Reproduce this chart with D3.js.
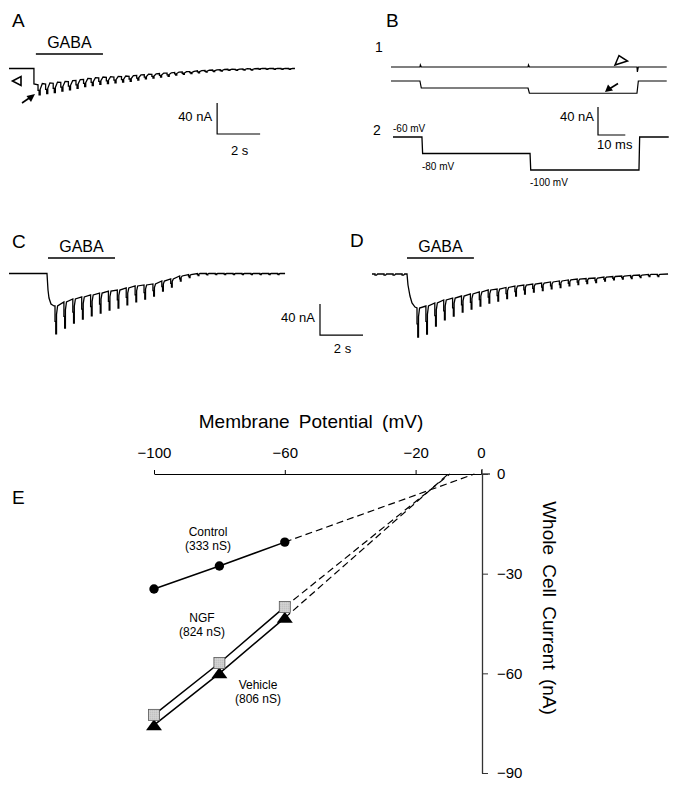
<!DOCTYPE html>
<html><head><meta charset="utf-8">
<script src="https://cdn.jsdelivr.net/npm/d3@7"></script>
<style>
body{margin:0;background:#fff}
svg{display:block}
text{font-family:"Liberation Sans",Arial,Helvetica,sans-serif;fill:#000}
</style>
</head><body><svg id="fig" width="679" height="785"></svg>
<script>
// ---------- DATA ----------
// Panel A (GABA-evoked current, nA; pulses every period s)
const aOnsetT = [1.16, 1.16];
const aOnsetI = [0, -20];
const aEnv   = [-21,-20,-19,-18,-17,-15.5,-14,-13,-12,-11.5,-11,-10.5,-10,-9,-8,-7.5,-6.5,-6,-5,-4.5,-4,-3,-2.5,-2,-1.5,-1,-1,-0.5,-0.5,0,0,0,0,0];
const aDepth = [13,12.5,12,11,10.5,10,9.5,9,8.5,8,7.5,7,6.5,6,5.5,5,4.5,4,3.5,3,2.5,2.5,2,2,2,1.5,1.5,1.5,1.5,1,1,1,1,1];
// Panel C
const cOnsetT = [1.767, 1.814, 1.86, 1.953, 2.093];
const cOnsetI = [0, -21.3, -31.6, -39.4, -41.9];
const cEnv   = [-41.9,-36.8,-32.9,-30.3,-27.7,-25.2,-22.6,-21.3,-18.7,-16.1,-14.8,-13.5,-9.7,-7.1,-3.2,-1.3,0,0,0,0,0,0,0,0,0,0];
const cDepth = [36,33.5,31,28.4,27.1,25.8,24.5,23.2,21.9,20.6,18.1,15.5,12.9,10.3,6.5,3.9,2.6,1.9,1.3,1.3,1.3,1.3,1.3,1.3,1.3,1.3];
// Panel D
const dPreT = [0.14, 0.56, 0.98, 1.40];
const dPreD = [1.5, 1.5, 1.5, 1.5];
const dOnsetT = [1.628, 1.674, 1.767, 1.86, 2.0];
const dOnsetI = [0, -14.2, -28.4, -37.4, -42.6];
const dEnv   = [-43.9,-41.3,-37.4,-33.5,-31,-28.4,-25.8,-23.2,-20.6,-19.4,-17.4,-15.5,-14.2,-12.9,-11.6,-10.3,-9,-7.7,-6.5,-5.8,-5.2,-3.9,-3.2,-2.6,-1.9,-1.3,-0.6,-0.6];
const dDepth = [37.4,36.1,29.7,25.8,23.2,20.6,19.4,18.1,16.8,15.5,14.2,12.9,11.6,10.3,9.7,9,8.4,7.7,7.1,6.5,5.8,5.2,4.5,3.9,3.9,3.2,2.6,2.6];
// Panel B (ms, mV, nA)
const bTimes = [0, 10.6, 50.2, 90.1, 101];
const bVolt  = [-60, -80, -100, -60];
const bCtrl  = [0, 0, 0, 0];
const bCtrlBlip = [3, 3, -7];
const bGaba  = [0, -10, -17.5, 0];
const bVoltLabels = ["-60 mV", "-80 mV", "-100 mV"];
// Panel E (I-V relation)
const ivVolt = [-100, -80, -60];
const ivControl = [-34.6, -27.7, -20.5];
const ivNGF = [-72.5, -56.9, -40];
const ivVehicle = [-75.6, -60, -43.3];
const ivReversal = {control: -2, ngf: -9.5, vehicle: -10};
const ivXTicks = [-100, -60, -20, 0];
const ivYTicks = [0, -30, -60, -90];
const groupLabels = [["Control","(333 nS)"],["NGF","(824 nS)"],["Vehicle","(806 nS)"]];

// ---------- DRAW ----------
const svg = d3.select("#fig");
const defs = svg.append("defs");
const pat = defs.append("pattern").attr("id","dots").attr("width",2).attr("height",2).attr("patternUnits","userSpaceOnUse");
pat.append("rect").attr("width",2).attr("height",2).attr("fill","#dcdcdc");
pat.append("rect").attr("x",0.5).attr("y",0.5).attr("width",0.8).attr("height",0.8).attr("fill","#777");

const PXS = 21.5, PXNA = 0.775;
function traceScales(x0, base, tEnd){
  return {
    x: d3.scaleLinear().domain([0, tEnd]).range([x0, x0 + tEnd*PXS]),
    y: d3.scaleLinear().domain([0, -40]).range([base, base + 40*PXNA])
  };
}
function buildTrace(o){
  const pts = [[0,0]];
  const w = o.w;
  (o.preT||[]).forEach((t,k)=>{ pts.push([t,0],[t,-o.preD[k]],[t+w*2,-o.preD[k]],[t+w*2+0.05,0]); });
  o.onsetT.forEach((t,k)=>pts.push([t,o.onsetI[k]]));
  o.env.forEach((e,i)=>{
    const t = o.t0 + i*o.period, d = o.depth[i];
    pts.push([t,e],[t,e-0.55*d],[t+w,e-0.55*d],[t+w,e-d],[t+2*w,e-d],[t+2*w,e-o.back*d],[t+2*w+o.rec,e+o.over*d]);
  });
  pts.push([o.end, 0]);
  return pts;
}
function drawTrace(o, x0, base){
  const s = traceScales(x0, base, o.end);
  const pts = buildTrace(o);
  svg.append("path").datum(pts)
    .attr("d", d3.line().x(d=>s.x(d[0])).y(d=>s.y(d[1])))
    .attr("fill","none").attr("stroke","#000").attr("stroke-width",1.3).attr("stroke-linejoin","miter");
  return s;
}
function scaleBar(s, xs, ys, tLen, iLen){
  const x = s.x(xs), y1 = s.y(ys), y2 = s.y(ys - iLen), x2 = s.x(xs + tLen);
  svg.append("path").attr("d",`M${x},${y1}V${y2}H${x2}`).attr("fill","none").attr("stroke","#000").attr("stroke-width",1.2);
  return {x, y1, y2, x2};
}
function txt(x,y,t,size,anchor,extra){
  const e = svg.append("text").attr("x",x).attr("y",y).text(t).attr("font-size",size).attr("text-anchor",anchor||"start");
  if(extra) extra(e);
  return e;
}

// Panel letters
txt(12,27,"A",19); txt(386,27,"B",19); txt(12,248,"C",19); txt(350,247,"D",19); txt(12,504,"E",19);

// ---- Panel A ----
const sA = drawTrace({onsetT:aOnsetT,onsetI:aOnsetI,env:aEnv,depth:aDepth,t0:1.35,period:0.353,end:13.3,w:0.05,back:0.45,rec:0.1,over:0.12}, 9, 68.5);
svg.append("line").attr("x1",sA.x(1.25)).attr("x2",sA.x(4.37)).attr("y1",54).attr("y2",54).attr("stroke","#000").attr("stroke-width",1.4);
txt((sA.x(1.25)+sA.x(4.37))/2,48,"GABA",16,"middle");
{ const b = scaleBar(sA, 9.68, -44.5, 2, 40);
  txt(b.x-5, 121, "40 nA", 13, "end");
  txt((b.x+b.x2)/2+1, 155, "2 s", 13, "middle"); }
// open arrowhead and filled arrow (A)
svg.append("path").attr("d","M12.5,81 L21,76.5 L21,85.5 Z").attr("fill","none").attr("stroke","#000").attr("stroke-width",1.6);
svg.append("line").attr("x1",22).attr("y1",103).attr("x2",30).attr("y2",97.5).attr("stroke","#000").attr("stroke-width",1.6);
svg.append("path").attr("d","M35,94 L26.5,96 L31,102 Z").attr("fill","#000");

// ---- Panel C ----
const sC = drawTrace({onsetT:cOnsetT,onsetI:cOnsetI,env:cEnv,depth:cDepth,t0:2.14,period:0.414,end:12.84,w:0.035,back:0.3,rec:0.05,over:0}, 9, 273.5);
svg.append("line").attr("x1",sC.x(1.814)).attr("x2",sC.x(4.93)).attr("y1",258).attr("y2",258).attr("stroke","#000").attr("stroke-width",1.4);
txt((sC.x(1.814)+sC.x(4.93))/2,252,"GABA",16,"middle");
{ const b = scaleBar(sC, 14.465, -39.4, 2, 40);
  txt(b.x-5, 322, "40 nA", 13, "end");
  txt((b.x+b.x2)/2+1, 353, "2 s", 13, "middle"); }

// ---- Panel D ----
const sD = drawTrace({preT:dPreT,preD:dPreD,onsetT:dOnsetT,onsetI:dOnsetI,env:dEnv,depth:dDepth,t0:2.093,period:0.414,end:13.77,w:0.035,back:0.3,rec:0.05,over:0}, 372, 274);
svg.append("line").attr("x1",sD.x(1.628)).attr("x2",sD.x(4.74)).attr("y1",258).attr("y2",258).attr("stroke","#000").attr("stroke-width",1.4);
txt((sD.x(1.628)+sD.x(4.74))/2,252,"GABA",16,"middle");

// ---- Panel B ----
const bx  = d3.scaleLinear().domain([0,101]).range([391, 391+101*2.73]);
const bxV = d3.scaleLinear().domain([0,101]).range([393, 393+101*2.73]);
const by1 = d3.scaleLinear().domain([0,-40]).range([67, 95]);
const by2 = d3.scaleLinear().domain([0,-40]).range([81, 109]);
const bv  = d3.scaleLinear().domain([-60,-100]).range([137, 170]);
function stepPts(vals, blips, ramp){
  const p = [[bTimes[0], vals[0]]];
  for(let i=1;i<vals.length;i++){
    const t = bTimes[i];
    p.push([t, vals[i-1]]);
    if(blips){ p.push([t+0.15, blips[i-1]],[t+0.5, vals[i]]); }
    else p.push([t+ramp, vals[i]]);
  }
  p.push([bTimes[bTimes.length-1], vals[vals.length-1]]);
  return p;
}
svg.append("path").datum(stepPts(bCtrl,bCtrlBlip))
  .attr("d",d3.line().x(d=>bx(d[0])).y(d=>by1(d[1]))).attr("fill","none").attr("stroke","#000").attr("stroke-width",1.2);
svg.append("path").datum(stepPts(bGaba,null,0.5))
  .attr("d",d3.line().x(d=>bx(d[0])).y(d=>by2(d[1]))).attr("fill","none").attr("stroke","#000").attr("stroke-width",1.2);
svg.append("path").datum(stepPts(bVolt,null,0.25))
  .attr("d",d3.line().x(d=>bxV(d[0])).y(d=>bv(d[1]))).attr("fill","none").attr("stroke","#000").attr("stroke-width",1.3);
txt(375,52,"1",14); txt(373,135,"2",14);
bVoltLabels.forEach((l,i)=>{
  txt(bxV(bTimes[i]), bv(bVolt[i]) + (i===0 ? -5 : 16), l, 10, "start");
});
{ const x=598, y1=107, y2=135, x2=598+10*2.73;
  svg.append("path").attr("d",`M${x},${y1}V${y2}H${x2}`).attr("fill","none").attr("stroke","#000").attr("stroke-width",1.2);
  txt(x-4,121,"40 nA",13,"end");
  txt(x-1,149,"10 ms",13,"start"); }
// arrows (B)
svg.append("path").attr("d","M615,65 L619,55.5 L627.5,61 Z").attr("fill","none").attr("stroke","#000").attr("stroke-width",1.5);
svg.append("line").attr("x1",618).attr("y1",83.5).attr("x2",610).attr("y2",88.5).attr("stroke","#000").attr("stroke-width",1.6);
svg.append("path").attr("d","M605,92 L608,84.5 L613,90.5 Z").attr("fill","#000");

// ---- Panel E ----
const ex = d3.scaleLinear().domain([-100,0]).range([154,481]);
const ey = d3.scaleLinear().domain([0,-90]).range([474,773]);
const gx = svg.append("g").attr("transform","translate(0,474)")
  .call(d3.axisTop(ex).tickValues(ivXTicks).tickSize(4).tickSizeOuter(0).tickPadding(12).tickFormat(d3.format("d")));
gx.select(".domain").attr("stroke-width",1.1);
gx.selectAll("text").attr("font-size",15).attr("font-family","Liberation Sans, Arial, sans-serif").attr("fill","#000");
svg.append("line").attr("x1",ex(0)).attr("x2",ex(0)+9).attr("y1",474).attr("y2",474).attr("stroke","#000").attr("stroke-width",1.1);
const gy = svg.append("g").attr("transform",`translate(${ex(0)+1},0)`)
  .call(d3.axisRight(ey).tickValues(ivYTicks).tickSize(6).tickSizeOuter(0).tickPadding(9).tickFormat(d3.format("d")));
gy.select(".domain").attr("stroke","#333").attr("stroke-width",1.3);
gy.selectAll("line").attr("stroke","#333");
gy.selectAll("text").attr("font-size",15).attr("font-family","Liberation Sans, Arial, sans-serif").attr("fill","#000");
svg.append("line").attr("x1",ex(0)+1).attr("x2",ex(0)+1).attr("y1",469).attr("y2",474).attr("stroke","#333").attr("stroke-width",1.3);

txt(311,428,"Membrane Potential (mV)",19,"middle",e=>e.attr("word-spacing",4));
svg.append("text").attr("transform","translate(543,608) rotate(90)").attr("text-anchor","middle")
  .attr("font-size",19).attr("word-spacing",4).text("Whole Cell Current (nA)");

const line = d3.line().x(d=>ex(d[0])).y(d=>ey(d[1]));
const series = [
  {vals: ivControl, rev: ivReversal.control},
  {vals: ivNGF, rev: ivReversal.ngf},
  {vals: ivVehicle, rev: ivReversal.vehicle}
];
series.forEach(s=>{
  const pts = ivVolt.map((v,i)=>[v, s.vals[i]]);
  svg.append("path").datum(pts).attr("d",line).attr("fill","none").attr("stroke","#000").attr("stroke-width",1.5);
  svg.append("path").datum([pts[pts.length-1],[s.rev,0]]).attr("d",line).attr("fill","none")
    .attr("stroke","#000").attr("stroke-width",1.2).attr("stroke-dasharray","7,4");
});
// markers
svg.selectAll("circle.ctl").data(ivVolt.map((v,i)=>[v,ivControl[i]])).enter().append("circle")
  .attr("cx",d=>ex(d[0])).attr("cy",d=>ey(d[1])).attr("r",4.7).attr("fill","#000");
svg.selectAll("path.veh").data(ivVolt.map((v,i)=>[v,ivVehicle[i]])).enter().append("path")
  .attr("d",d=>{const x=ex(d[0]),y=ey(d[1]);return `M${x-8},${y+5}L${x+8},${y+5}L${x},${y-6}Z`;}).attr("fill","#000");
svg.selectAll("rect.ngf").data(ivVolt.map((v,i)=>[v,ivNGF[i]])).enter().append("rect")
  .attr("x",d=>ex(d[0])-5.5).attr("y",d=>ey(d[1])-5.5).attr("width",11).attr("height",11)
  .attr("fill","url(#dots)").attr("stroke","#555").attr("stroke-width",0.8);

// group labels
const labPos = [[208,536],[202,622],[258,689]];
groupLabels.forEach((g,i)=>{
  txt(labPos[i][0], labPos[i][1], g[0], 12, "middle");
  txt(labPos[i][0], labPos[i][1]+13.5, g[1], 12, "middle");
});
</script></body></html>
